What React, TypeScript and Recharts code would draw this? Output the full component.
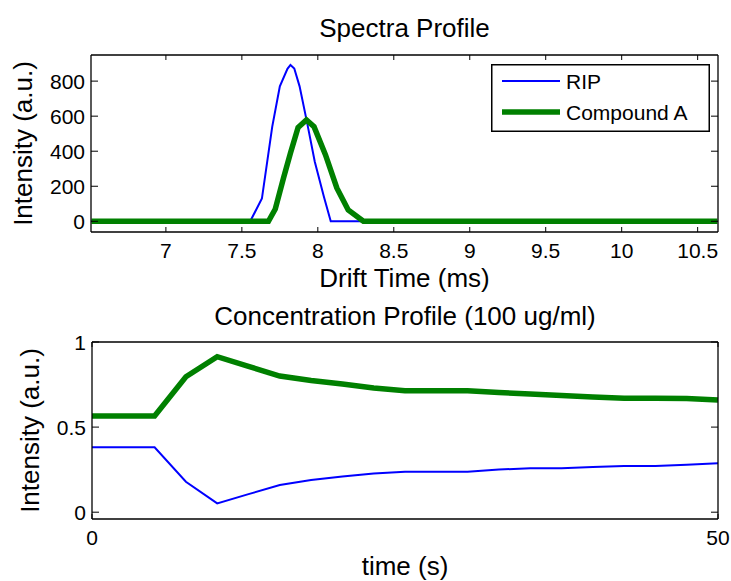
import React from 'react';
import { LineChart, Line, XAxis, YAxis, Legend, Label } from 'recharts';

// ---------- Spectra profile data ----------
const ripDrift = [6.51, 7.555, 7.632, 7.7, 7.75, 7.8, 7.82, 7.845, 7.88, 7.93, 7.98, 8.04, 8.085, 10.63];
const ripIntensity = [0, 0, 130, 540, 770, 870, 892, 872, 770, 560, 340, 140, 0, 0];
const compDrift = [6.51, 7.675, 7.72, 7.775, 7.82, 7.87, 7.925, 7.975, 8.05, 8.125, 8.2, 8.3, 10.63];
const compIntensity = [0, 0, 70, 250, 390, 535, 578, 540, 380, 190, 65, 0, 0];
const driftTicks = [7, 7.5, 8, 8.5, 9, 9.5, 10, 10.5];
const driftTickLabels = ['7', '7.5', '8', '8.5', '9', '9.5', '10', '10.5'];
const intensityTicks = [0, 200, 400, 600, 800];

// ---------- Concentration profile data ----------
const timeS = [0, 2.5, 5, 7.5, 10, 12.5, 15, 17.5, 20, 22.5, 25, 27.5, 30, 32.5, 35, 37.5, 40, 42.5, 45, 47.5, 50];
const ripConc = [0.381, 0.381, 0.381, 0.179, 0.052, 0.106, 0.16, 0.189, 0.21, 0.227, 0.238, 0.238, 0.238, 0.251, 0.258, 0.258, 0.266, 0.271, 0.271, 0.279, 0.287];
const compConc = [0.565, 0.565, 0.565, 0.796, 0.914, 0.857, 0.8, 0.774, 0.753, 0.73, 0.714, 0.714, 0.714, 0.703, 0.694, 0.686, 0.677, 0.669, 0.669, 0.668, 0.659];
const timeTicks = [0, 50];
const concTicks = [0, 0.5, 1];

const seriesNames = ['RIP', 'Compound A'];
const BLUE = '#0000ff';
const GREEN = '#008000';
const FONT = '"Liberation Sans", Arial, Helvetica, sans-serif';

const ripData = ripDrift.map((t, i) => ({ t, v: ripIntensity[i] }));
const compData = compDrift.map((t, i) => ({ t, v: compIntensity[i] }));
const concData = timeS.map((t, i) => ({ t, rip: ripConc[i], comp: compConc[i] }));

const fmt = (v: number) => String(v);

// Inward tick helpers
const BottomTick = (labels?: (v: number) => string, len = 5) => (props: any) => {
  const { x, y, payload } = props;
  return (
    <g>
      <line x1={x} x2={x} y1={y} y2={y - len} stroke="#000" strokeWidth={1} />
      <text x={x} y={y + 26} textAnchor="middle" fontFamily={FONT} fontSize={21} fill="#000">
        {labels ? labels(payload.value) : fmt(payload.value)}
      </text>
    </g>
  );
};
const TopTick = (len = 5) => (props: any) => {
  const { x, y } = props;
  return <line x1={x} x2={x} y1={y} y2={y + len} stroke="#000" strokeWidth={1} />;
};
const LeftTick = (len = 7) => (props: any) => {
  const { x, y, payload } = props;
  return (
    <g>
      <line x1={x} x2={x + len} y1={y} y2={y} stroke="#000" strokeWidth={1} />
      <text x={x - 6} y={y + 7.5} textAnchor="end" fontFamily={FONT} fontSize={21} fill="#000">
        {fmt(payload.value)}
      </text>
    </g>
  );
};
const RightTick = (len = 7) => (props: any) => {
  const { x, y } = props;
  return <line x1={x} x2={x - len} y1={y} y2={y} stroke="#000" strokeWidth={1} />;
};

const driftLabel = (v: number) => {
  const i = driftTicks.indexOf(v);
  return i >= 0 ? driftTickLabels[i] : String(v);
};

const LegendBox = () => (
  <svg width={219} height={68} style={{ display: 'block' }}>
    <rect x={0.75} y={0.75} width={217.5} height={66.5} fill="#fff" stroke="#000" strokeWidth={1.5} />
    <line x1={11} x2={69} y1={17} y2={17} stroke={BLUE} strokeWidth={2} />
    <text x={75} y={24.5} fontFamily={FONT} fontSize={21} fill="#000">{seriesNames[0]}</text>
    <line x1={11} x2={69} y1={48} y2={48} stroke={GREEN} strokeWidth={5.5} />
    <text x={75} y={55.5} fontFamily={FONT} fontSize={21} fill="#000">{seriesNames[1]}</text>
  </svg>
);

const bigText = { fontFamily: FONT, fontSize: 26, fill: '#000' } as const;
const axisLineStyle = { stroke: '#000', strokeWidth: 1.3 };

export default function App() {
  return (
    <div style={{ position: 'absolute', left: 0, top: 0, width: 731, height: 581, background: '#fff' }}>
      <div style={{ position: 'absolute', left: 0, top: 0 }}>
        <LineChart width={731} height={300} margin={{ top: 54, right: 12, bottom: 67, left: 90 }}>
          <XAxis
            xAxisId="b"
            type="number"
            dataKey="t"
            domain={[6.507, 10.634]}
            ticks={driftTicks}
            interval={0}
            allowDataOverflow
            height={1}
            tickSize={0}
            tickMargin={0}
            tickLine={false}
            axisLine={axisLineStyle}
            tick={BottomTick(driftLabel)}
          >
            <Label
              content={(p: any) => (
                <text x={p.viewBox.x + p.viewBox.width / 2} y={p.viewBox.y + 55} textAnchor="middle" {...bigText}>
                  Drift Time (ms)
                </text>
              )}
            />
          </XAxis>
          <XAxis
            xAxisId="t"
            orientation="top"
            type="number"
            dataKey="t"
            domain={[6.507, 10.634]}
            ticks={driftTicks}
            interval={0}
            allowDataOverflow
            height={1}
            tickSize={0}
            tickMargin={0}
            tickLine={false}
            axisLine={axisLineStyle}
            tick={TopTick()}
          >
            <Label
              content={(p: any) => (
                <text x={p.viewBox.x + p.viewBox.width / 2} y={p.viewBox.y + p.viewBox.height - 18} textAnchor="middle" {...bigText}>
                  Spectra Profile
                </text>
              )}
            />
          </XAxis>
          <YAxis
            yAxisId="l"
            type="number"
            domain={[-61, 949]}
            ticks={intensityTicks}
            interval={0}
            allowDataOverflow
            width={1}
            tickSize={0}
            tickMargin={0}
            tickLine={false}
            axisLine={axisLineStyle}
            tick={LeftTick()}
          >
            <Label
              content={(p: any) => (
                <text
                  transform={`translate(32, ${p.viewBox.y + p.viewBox.height / 2}) rotate(-90)`}
                  textAnchor="middle"
                  {...bigText}
                >
                  Intensity (a.u.)
                </text>
              )}
            />
          </YAxis>
          <YAxis
            yAxisId="r"
            orientation="right"
            type="number"
            domain={[-61, 949]}
            ticks={intensityTicks}
            interval={0}
            allowDataOverflow
            width={1}
            tickSize={0}
            tickMargin={0}
            tickLine={false}
            axisLine={axisLineStyle}
            tick={RightTick()}
          />
          <Line
            xAxisId="b"
            yAxisId="l"
            data={ripData}
            dataKey="v"
            name={seriesNames[0]}
            type="linear"
            stroke={BLUE}
            strokeWidth={2}
            dot={false}
            isAnimationActive={false}
          />
          <Line
            xAxisId="b"
            yAxisId="l"
            data={compData}
            dataKey="v"
            name={seriesNames[1]}
            type="linear"
            stroke={GREEN}
            strokeWidth={5.5}
            dot={false}
            isAnimationActive={false}
          />
          <Legend
            layout="horizontal"
            align="center"
            verticalAlign="middle"
            wrapperStyle={{ left: 491, top: 64, width: 219, height: 68 }}
            content={() => <LegendBox />}
          />
        </LineChart>
      </div>
      <div style={{ position: 'absolute', left: 0, top: 290 }}>
        <LineChart width={731} height={291} data={concData} margin={{ top: 51, right: 12, bottom: 61, left: 91 }}>
          <XAxis
            xAxisId="b"
            type="number"
            dataKey="t"
            domain={[0, 50]}
            ticks={timeTicks}
            interval={0}
            height={1}
            tickSize={0}
            tickMargin={0}
            tickLine={false}
            axisLine={axisLineStyle}
            tick={BottomTick()}
          >
            <Label
              content={(p: any) => (
                <text x={p.viewBox.x + p.viewBox.width / 2} y={p.viewBox.y + 56} textAnchor="middle" {...bigText}>
                  time (s)
                </text>
              )}
            />
          </XAxis>
          <XAxis
            xAxisId="t"
            orientation="top"
            type="number"
            dataKey="t"
            domain={[0, 50]}
            ticks={timeTicks}
            interval={0}
            height={1}
            tickSize={0}
            tickMargin={0}
            tickLine={false}
            axisLine={axisLineStyle}
            tick={TopTick()}
          >
            <Label
              content={(p: any) => (
                <text x={p.viewBox.x + p.viewBox.width / 2} y={p.viewBox.y + p.viewBox.height - 17} textAnchor="middle" {...bigText}>
                  Concentration Profile (100 ug/ml)
                </text>
              )}
            />
          </XAxis>
          <YAxis
            yAxisId="l"
            type="number"
            domain={[-0.04, 1.0]}
            ticks={concTicks}
            interval={0}
            allowDataOverflow
            width={1}
            tickSize={0}
            tickMargin={0}
            tickLine={false}
            axisLine={axisLineStyle}
            tick={LeftTick()}
          >
            <Label
              content={(p: any) => (
                <text
                  transform={`translate(38.5, ${p.viewBox.y + p.viewBox.height / 2}) rotate(-90)`}
                  textAnchor="middle"
                  {...bigText}
                >
                  Intensity (a.u.)
                </text>
              )}
            />
          </YAxis>
          <YAxis
            yAxisId="r"
            orientation="right"
            type="number"
            domain={[-0.04, 1.0]}
            ticks={concTicks}
            interval={0}
            allowDataOverflow
            width={1}
            tickSize={0}
            tickMargin={0}
            tickLine={false}
            axisLine={axisLineStyle}
            tick={RightTick()}
          />
          <Line
            xAxisId="b"
            yAxisId="l"
            dataKey="rip"
            name={seriesNames[0]}
            type="linear"
            stroke={BLUE}
            strokeWidth={2}
            dot={false}
            isAnimationActive={false}
          />
          <Line
            xAxisId="b"
            yAxisId="l"
            dataKey="comp"
            name={seriesNames[1]}
            type="linear"
            stroke={GREEN}
            strokeWidth={5.5}
            dot={false}
            isAnimationActive={false}
          />
        </LineChart>
      </div>
    </div>
  );
}
